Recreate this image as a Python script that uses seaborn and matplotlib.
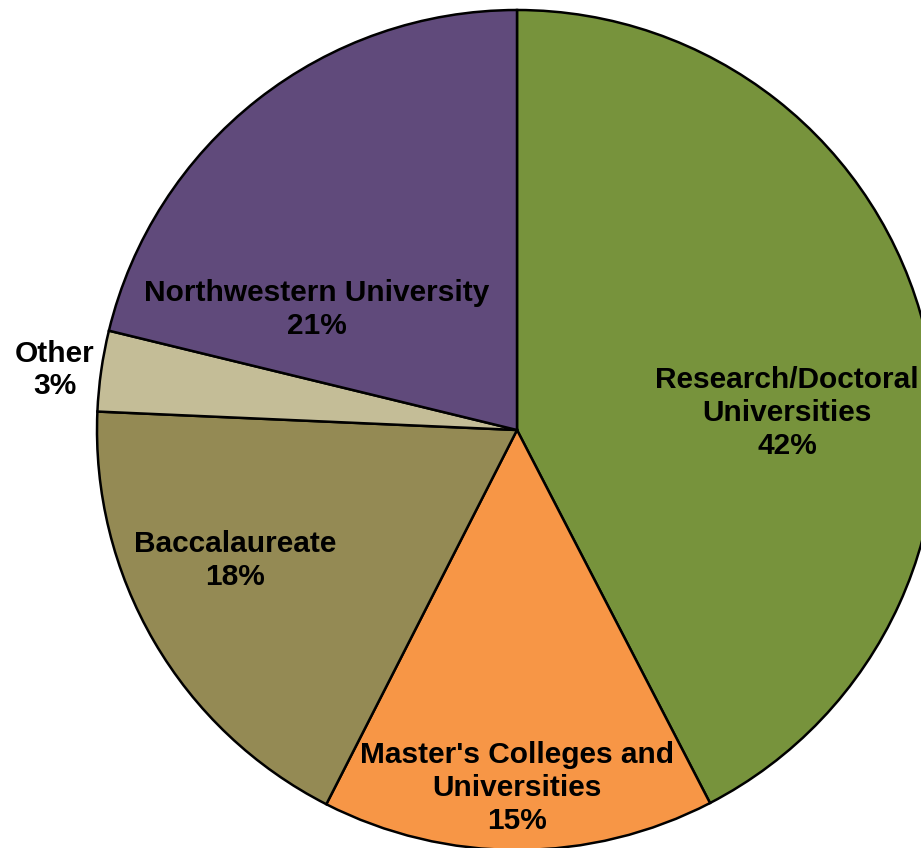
import matplotlib
matplotlib.use("Agg")
import matplotlib.pyplot as plt
import seaborn as sns

categories = ["Research/Doctoral\nUniversities", "Master's Colleges and\nUniversities",
              "Baccalaureate", "Other", "Northwestern University"]
shares = [42.4, 15.1, 18.2, 3.1, 21.2]
pct_labels = ["42%", "15%", "18%", "3%", "21%"]
colors = ["#77933C", "#F79646", "#948A54", "#C4BD97", "#604A7B"]

# label centres in pie units (radius = 1)
label_pos = [(0.643, 0.04), (0.0, -0.852), (-0.671, -0.31), (-1.1, 0.143), (-0.476, 0.286)]

sns.set_theme(style="white")
plt.rcParams['font.family'] = ['Liberation Sans', 'DejaVu Sans']

fig = plt.figure(figsize=(9.21, 8.48), dpi=100)
ax = fig.add_axes([0, 0, 1, 1])
ax.pie(shares, colors=sns.color_palette(colors), startangle=90, counterclock=False,
       radius=1.0, wedgeprops=dict(edgecolor="black", linewidth=1.8))

for cat, pct, (x, y) in zip(categories, pct_labels, label_pos):
    ax.text(x, y, cat + "\n" + pct, ha="center", va="center", fontsize=21.5,
            fontweight="bold", color="black", linespacing=1.22)

ax.set_xlim(-517 / 420, 404 / 420)
ax.set_ylim(-418 / 420, 430 / 420)
ax.set_aspect("equal")
ax.axis("off")

fig.savefig("out.png", dpi=100, facecolor="white")
